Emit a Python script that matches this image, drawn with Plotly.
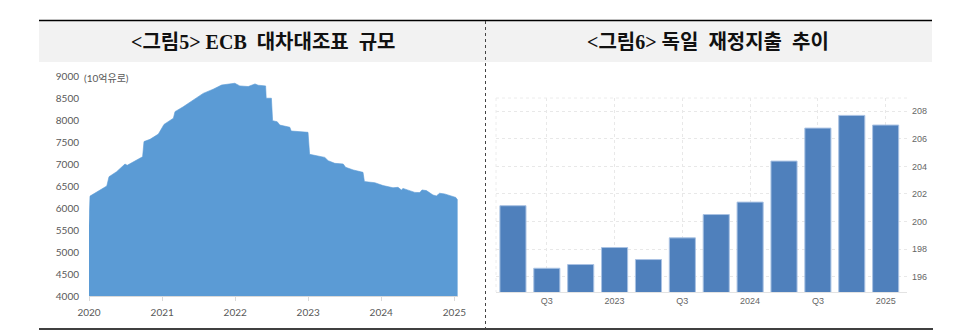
import plotly.graph_objects as go

W, H = 958, 332

# ---------- Left chart: ECB balance sheet (billion EUR) ----------
ecb_dates = [
    "2020-01-01", "2020-01-06", "2020-03-30", "2020-04-10", "2020-05-18", "2020-06-29",
    "2020-07-10", "2020-08-26", "2020-09-25", "2020-10-02", "2020-11-01", "2020-12-13",
    "2021-01-04", "2021-01-10", "2021-02-26", "2021-03-06", "2021-04-16", "2021-06-05",
    "2021-07-25", "2021-09-13", "2021-10-25", "2021-12-30", "2022-01-24", "2022-03-07",
    "2022-04-10", "2022-04-26", "2022-06-02", "2022-06-05", "2022-07-01", "2022-07-07",
    "2022-07-30", "2022-08-12", "2022-09-06", "2022-10-01", "2022-10-08", "2022-12-31",
    "2023-01-08", "2023-02-20", "2023-03-25", "2023-04-11", "2023-05-14", "2023-06-25",
    "2023-07-07", "2023-08-14", "2023-10-02", "2023-10-09", "2023-11-30", "2024-01-10",
    "2024-02-29", "2024-03-25", "2024-04-11", "2024-04-19", "2024-06-17", "2024-07-12",
    "2024-07-23", "2024-08-14", "2024-09-16", "2024-10-03", "2024-10-19", "2024-11-13",
    "2024-12-17", "2025-01-08", "2025-01-17",
]
ecb_values = [
    5600, 6270, 6500, 6710, 6825, 7000,
    6970, 7090, 7165, 7510, 7560, 7680,
    7850, 7900, 8040, 8190, 8300, 8455,
    8605, 8700, 8795, 8835, 8775, 8760,
    8820, 8790, 8775, 8495, 8495, 7985,
    7960, 7885, 7865, 7835, 7750, 7720,
    7220, 7180, 7150, 7075, 7015, 7000,
    6925, 6865, 6810, 6600, 6575, 6510,
    6460, 6470, 6410, 6445, 6355, 6350,
    6410, 6395, 6295, 6275, 6335, 6320,
    6275, 6240, 6180,
]
ecb_yticks = [4000, 4500, 5000, 5500, 6000, 6500, 7000, 7500, 8000, 8500, 9000]
ecb_xticks = ["2020-01-01", "2021-01-01", "2022-01-01", "2023-01-01", "2024-01-01", "2025-01-01"]
ecb_xtext = ["2020", "2021", "2022", "2023", "2024", "2025"]

# ---------- Right chart: German government spending ----------
de_quarters = ["2022Q2", "2022Q3", "2022Q4", "2023Q1", "2023Q2", "2023Q3",
               "2023Q4", "2024Q1", "2024Q2", "2024Q3", "2024Q4", "2025Q1"]
de_values = [201.15, 196.62, 196.89, 198.12, 197.25, 198.82,
             200.51, 201.41, 204.38, 206.77, 207.69, 206.99]
de_tickvals = ["2022Q3", "2023Q1", "2023Q3", "2024Q1", "2024Q3", "2025Q1"]
de_ticktext = ["Q3", "2023", "Q3", "2024", "Q3", "2025"]
de_yticks = [196, 198, 200, 202, 204, 206, 208]

def px(x):
    return x / W

def py(y):
    return 1 - y / H

fig = go.Figure()

fig.add_trace(go.Scatter(
    x=ecb_dates, y=ecb_values, mode="lines", fill="tozeroy",
    line=dict(color="#5b9bd5", width=0.6), fillcolor="#5b9bd5",
    xaxis="x", yaxis="y", hoverinfo="skip", showlegend=False,
))

fig.add_trace(go.Bar(
    x=de_quarters, y=de_values, xaxis="x2", yaxis="y2",
    marker=dict(color="#4f80bc", line=dict(color="#a9c2e3", width=1)),
    showlegend=False, hoverinfo="skip",
))

left_font = dict(family="Lato, Liberation Sans, sans-serif", size=10, color="#595959")
right_font = dict(family="Liberation Sans Narrow, Liberation Sans, Arial, sans-serif", size=9, color="#666666")

fig.update_layout(
    template="none",
    width=W, height=H,
    margin=dict(l=0, r=0, t=0, b=0, pad=0),
    paper_bgcolor="white", plot_bgcolor="rgba(0,0,0,0)",
    bargap=0.23,
    xaxis=dict(
        domain=[px(89), px(458)], anchor="y", type="date", automargin=False,
        range=["2020-01-01", "2025-01-19"],
        tickvals=ecb_xticks, ticktext=ecb_xtext,
        showgrid=False, zeroline=False,
        showline=True, linecolor="#d9d9d9", linewidth=1,
        ticks="outside", ticklen=4, tickcolor="#d9d9d9",
        tickfont=left_font, ticklabelstandoff=3,
    ),
    yaxis=dict(
        domain=[py(296), py(76)], anchor="x", range=[4000, 9000], automargin=False,
        tickvals=ecb_yticks, showgrid=False, zeroline=False, showline=False,
        ticks="", tickfont=left_font, ticklabelstandoff=9,
    ),
    xaxis2=dict(
        domain=[px(496), px(907)], anchor="y2", type="category", automargin=False,
        range=[-0.5, 11.63],
        tickvals=de_tickvals, ticktext=de_ticktext,
        showgrid=True, gridcolor="#e8e8e8", griddash="dot", gridwidth=1,
        zeroline=False, showline=True, linecolor="#e3e3e3", linewidth=1,
        ticks="", tickfont=right_font, ticklabelstandoff=0,
    ),
    yaxis2=dict(
        domain=[py(292), py(98)], anchor="x2", side="right", automargin=False,
        range=[194.9, 208.95], tickvals=de_yticks,
        showgrid=True, gridcolor="#e8e8e8", griddash="dot", gridwidth=1,
        zeroline=False, showline=False,
        ticks="", tickfont=right_font, ticklabelstandoff=4,
    ),
)

shapes = [
    # header band
    dict(type="rect", xref="paper", yref="paper", x0=px(39), x1=px(932), y0=py(62), y1=py(21),
         fillcolor="#f2f2f2", line=dict(width=0), layer="below"),
    # top rule
    dict(type="line", xref="paper", yref="paper", x0=px(39), x1=px(932), y0=py(20.5), y1=py(20.5),
         line=dict(color="black", width=1.5)),
    # bottom rule
    dict(type="line", xref="paper", yref="paper", x0=px(39), x1=px(933), y0=py(329), y1=py(329),
         line=dict(color="black", width=1.5)),
    # dotted divider
    dict(type="line", xref="paper", yref="paper", x0=px(485.5), x1=px(485.5), y0=py(21), y1=py(329),
         line=dict(color="#444444", width=1, dash="dot")),
    # right plot top / left faint border
    dict(type="line", xref="paper", yref="paper", x0=px(496), x1=px(907), y0=py(98), y1=py(98),
         line=dict(color="#ececec", width=1, dash="dot")),
    dict(type="line", xref="paper", yref="paper", x0=px(496), x1=px(496), y0=py(98), y1=py(292),
         line=dict(color="#ececec", width=1, dash="dot")),
]
fig.update_layout(shapes=shapes)

title_font = dict(family="Liberation Serif, Noto Sans CJK KR, serif", size=20, color="#111111")
fig.add_annotation(x=px(263), y=py(42), xref="paper", yref="paper",
                   text="<b>&lt;그림5&gt; ECB  대차대조표  규모</b>", showarrow=False,
                   font=title_font, xanchor="center", yanchor="middle")
fig.add_annotation(x=px(708), y=py(42), xref="paper", yref="paper",
                   text="<b>&lt;그림6&gt; 독일  재정지출  추이</b>", showarrow=False,
                   font=title_font, xanchor="center", yanchor="middle")
fig.add_annotation(x=px(82), y=py(78), xref="paper", yref="paper",
                   text="(10억유로)", showarrow=False,
                   font=dict(family="Lato, Noto Sans CJK KR, sans-serif", size=10, color="#595959"),
                   xanchor="left", yanchor="middle")

fig.write_html("out.html")
